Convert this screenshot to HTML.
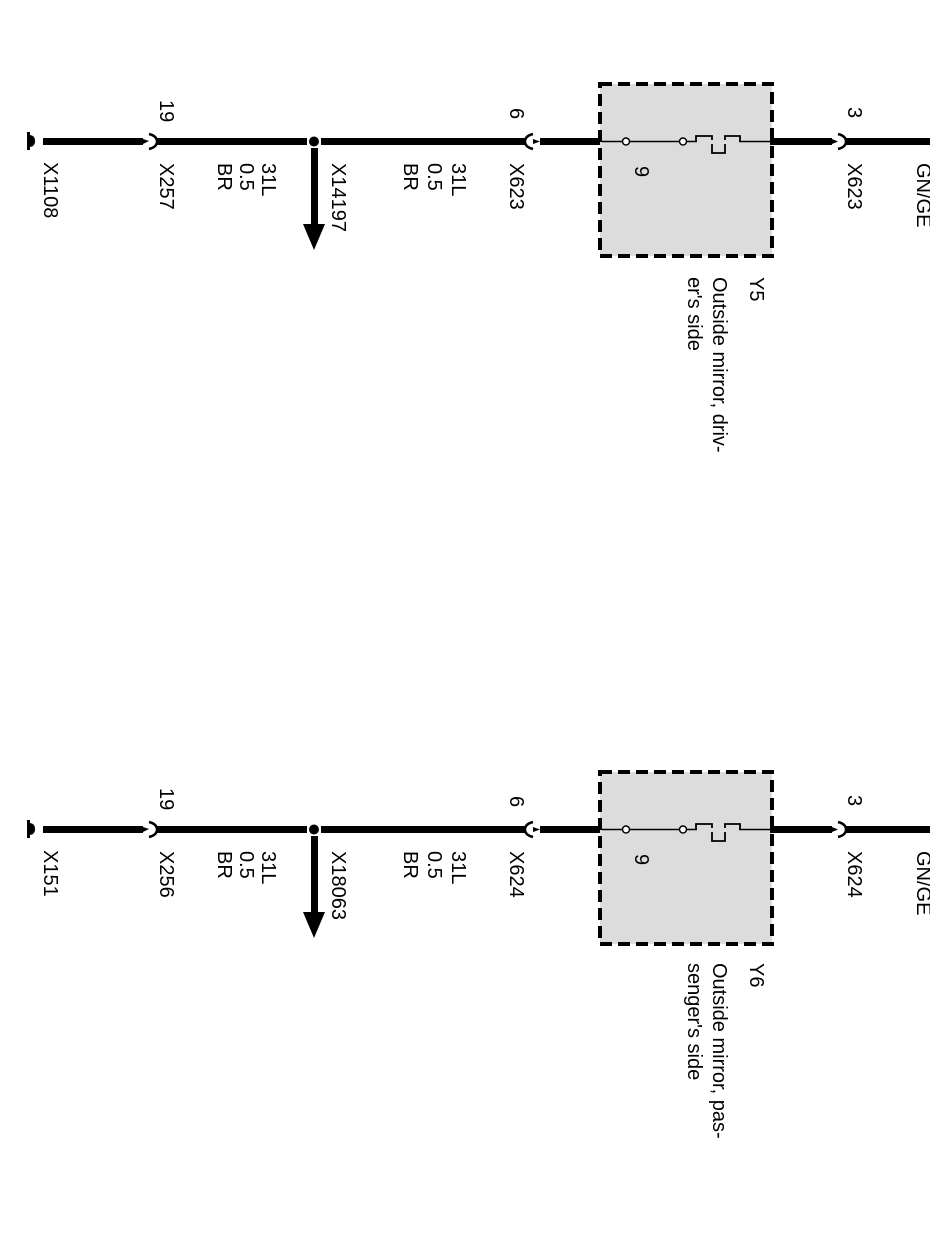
<!DOCTYPE html>
<html><head><meta charset="utf-8"><style>
html,body{margin:0;padding:0;background:#fff;}
svg{display:block;}
text{font-family:"Liberation Sans",Arial,sans-serif;font-size:20px;fill:#000;}
</style></head><body>
<svg width="930" height="1249" viewBox="0 0 930 1249" xmlns="http://www.w3.org/2000/svg">
<defs>
<g id="base">
  <rect x="27" y="132" width="3" height="18" fill="#000"/>
  <path d="M29 135 Q35 135 35 141 Q35 147 29 147 Z" fill="#000"/>
  <rect x="43" y="138" width="100" height="7" fill="#000"/>
  <path d="M143 139 L149 141 L143 144 Z" fill="#000"/>
  <path d="M149 134 Q157 136 157 141.5 Q157 147 149 149" fill="none" stroke="#000" stroke-width="2.5"/>
  <rect x="157" y="138" width="150" height="7" fill="#000"/>
  <rect x="321" y="138" width="205" height="7" fill="#000"/>
  <circle cx="314" cy="141.5" r="5" fill="#000"/>
  <rect x="311" y="148" width="7" height="78" fill="#000"/>
  <path d="M303 224 L325 224 L314 250 Z" fill="#000"/>
  <path d="M533 134 Q525 136 525 141.5 Q525 147 533 149" fill="none" stroke="#000" stroke-width="2.5"/>
  <path d="M540 141.5 L533 139 L533 144 Z" fill="#000"/>
  <rect x="540" y="138" width="62" height="7" fill="#000"/>
  <rect x="600" y="84" width="172" height="172" fill="#dcdcdc" stroke="#000" stroke-width="4" stroke-dasharray="12,6"/>
  <line x1="602" y1="141.5" x2="770" y2="141.5" stroke="#000" stroke-width="1.5"/>
  <polyline points="696,141.5 696,136 712,136 712,153 725,153 725,136 740,136 740,141.5" fill="none" stroke="#000" stroke-width="1.8"/>
  <rect x="697" y="140" width="42" height="4" fill="#dcdcdc"/>
  <circle cx="626" cy="141.5" r="3.5" fill="#fff" stroke="#000" stroke-width="1.5"/>
  <circle cx="683" cy="141.5" r="3.5" fill="#fff" stroke="#000" stroke-width="1.5"/>
  <rect x="770" y="138" width="62" height="7" fill="#000"/>
  <path d="M832 139 L838 141.5 L832 144 Z" fill="#000"/>
  <path d="M838 134 Q846 136 846 141.5 Q846 147 838 149" fill="none" stroke="#000" stroke-width="2.5"/>
  <rect x="846" y="138" width="84" height="7" fill="#000"/>
  <text transform="translate(160,100) rotate(90)">19</text>
  <text transform="translate(262,163) rotate(90)">31L</text>
  <text transform="translate(240,163) rotate(90)">0.5</text>
  <text transform="translate(218,163) rotate(90)">BR</text>
  <text transform="translate(452,163) rotate(90)">31L</text>
  <text transform="translate(428,163) rotate(90)">0.5</text>
  <text transform="translate(404,163) rotate(90)">BR</text>
  <text transform="translate(510,108) rotate(90)">6</text>
  <text transform="translate(635,166) rotate(90)">9</text>
  <text transform="translate(848,107) rotate(90)">3</text>
  <text transform="translate(917,163) rotate(90)">GN/GE</text>
</g>
</defs>
<use href="#base"/>
<use href="#base" transform="translate(0,688)"/>

<text transform="translate(44,162) rotate(90)">X1108</text>
<text transform="translate(160,163) rotate(90)">X257</text>
<text transform="translate(332,163) rotate(90)">X14197</text>
<text transform="translate(510,163) rotate(90)">X623</text>
<text transform="translate(848,163) rotate(90)">X623</text>
<text transform="translate(750,277) rotate(90)">Y5</text>
<text transform="translate(713,277) rotate(90)">Outside mirror, driv-</text>
<text transform="translate(688,277) rotate(90)">er's side</text>

<text transform="translate(44,850) rotate(90)">X151</text>
<text transform="translate(160,851) rotate(90)">X256</text>
<text transform="translate(332,851) rotate(90)">X18063</text>
<text transform="translate(510,851) rotate(90)">X624</text>
<text transform="translate(848,851) rotate(90)">X624</text>
<text transform="translate(750,963) rotate(90)">Y6</text>
<text transform="translate(713,963) rotate(90)">Outside mirror, pas-</text>
<text transform="translate(688,963) rotate(90)">senger's side</text>
</svg>
</body></html>
